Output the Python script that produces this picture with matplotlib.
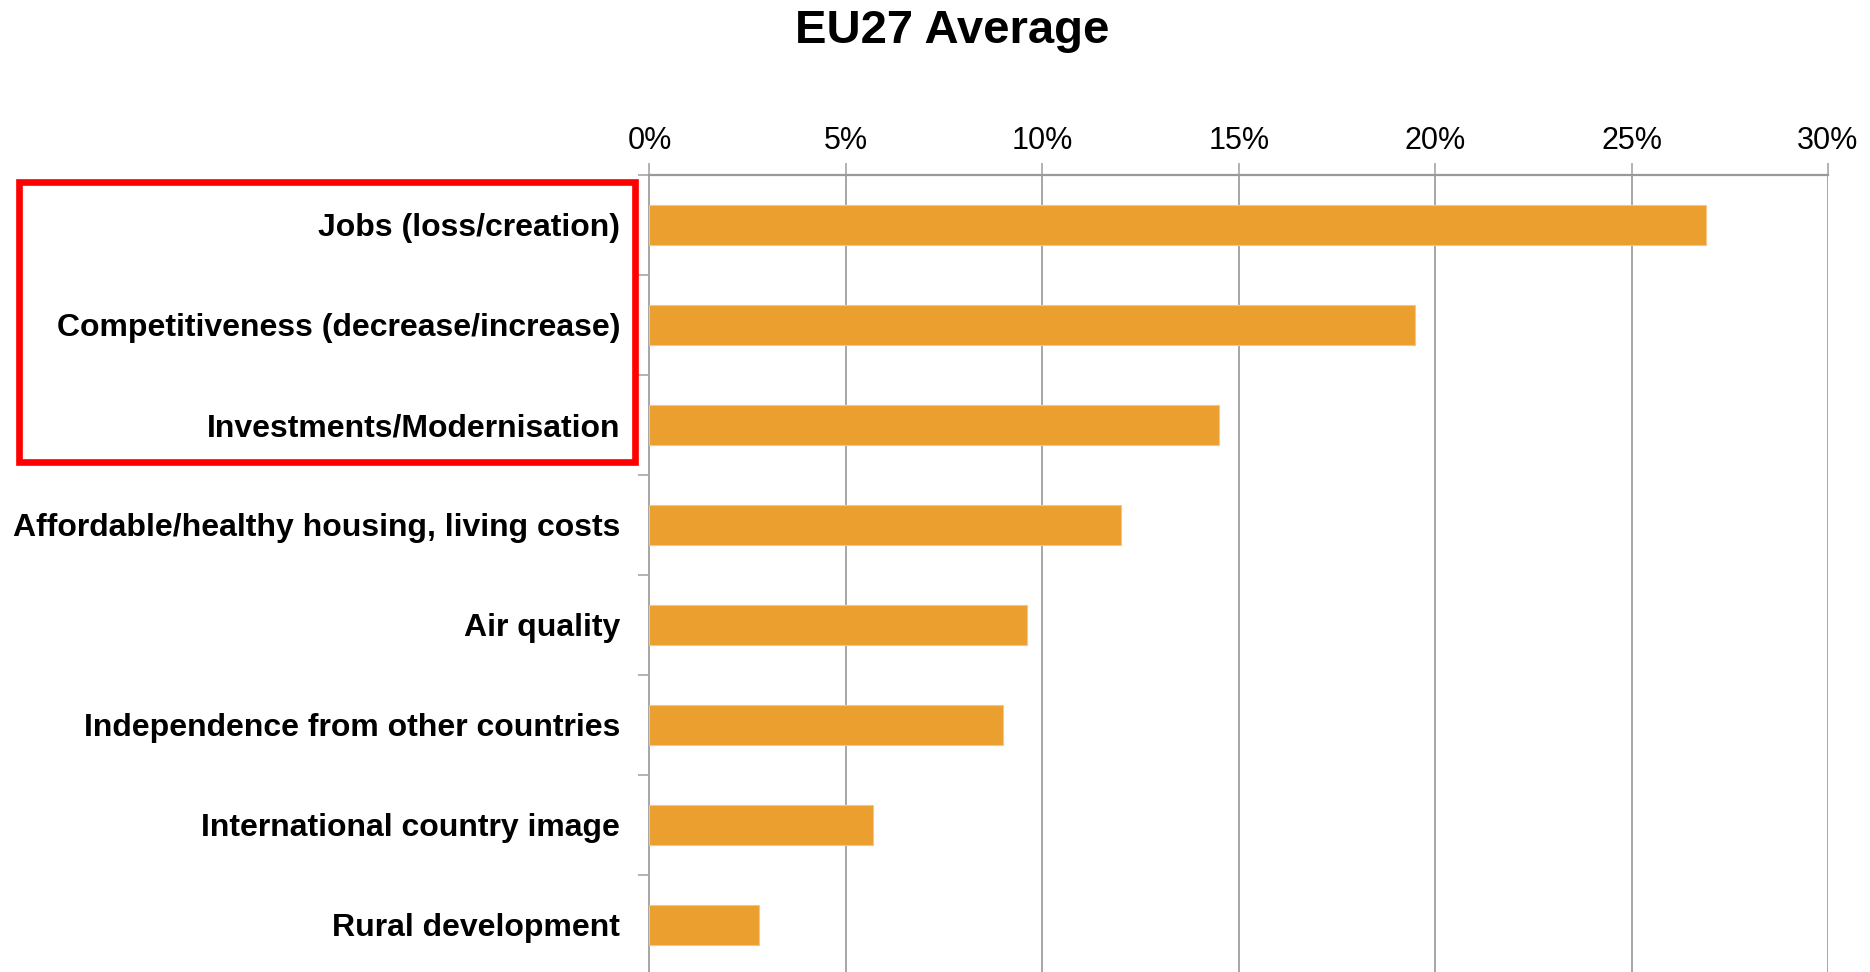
import matplotlib
matplotlib.use('Agg')
import matplotlib.pyplot as plt
from matplotlib.patches import Rectangle
import numpy as np

plt.rcParams['font.family'] = ['Liberation Sans', 'DejaVu Sans']

# data (share of mentions, %)
categorias = ['Jobs (loss/creation)',
              'Competitiveness (decrease/increase)',
              'Investments/Modernisation',
              'Affordable/healthy housing, living costs',
              'Air quality',
              'Independence from other countries',
              'International country image',
              'Rural development']
valores = [26.9, 19.5, 14.5, 12.0, 9.6, 9.0, 5.7, 2.8]
x_ticks = [0, 5, 10, 15, 20, 25, 30]

cor_barra = '#eb9f2e'
cor_grade = '#a6a6a6'

fig = plt.figure(figsize=(18.7, 9.72), dpi=100)
ax = fig.add_axes([0.3473, -0.003, 0.6302, 0.823])

y = np.arange(len(categorias))
ax.barh(y, valores, height=0.4, color=cor_barra, edgecolor='#f4c684', linewidth=0.8, zorder=3)

ax.set_xlim(0, 30)
ax.set_ylim(len(categorias) - 0.5, -0.5)

# x axis on top
ax.xaxis.tick_top()
ax.set_xticks(x_ticks)
ax.set_xticklabels([str(t) + '%' for t in x_ticks], fontsize=22)
ax.tick_params(axis='x', direction='out', length=9, width=1.2, color=cor_grade, pad=5)
ax.grid(axis='x', color=cor_grade, linewidth=1.4, zorder=0)

# y axis: labels at centers, ticks at boundaries
ax.set_yticks(y)
ax.set_yticklabels(categorias, fontsize=23, fontweight='bold')
ax.tick_params(axis='y', which='major', length=0, pad=21)
ax.set_yticks(np.arange(len(categorias) + 1) - 0.5, minor=True)
ax.tick_params(axis='y', which='minor', length=8, width=1.2, color=cor_grade)

for lado in ['right', 'bottom']:
    ax.spines[lado].set_visible(False)
ax.spines['top'].set_color('#999999')
ax.spines['top'].set_linewidth(1.6)
ax.spines['left'].set_color(cor_grade)
ax.spines['left'].set_linewidth(1.4)

fig.text(0.509, 0.968, 'EU27 Average', ha='center', va='center', fontsize=34, fontweight='bold')

# red box around the first three categories
caixa = Rectangle((0.0102, 0.5247), 0.3293, 0.288, transform=fig.transFigure,
                  fill=False, edgecolor='#ff0000', linewidth=4.8, clip_on=False)
fig.patches.append(caixa)

fig.savefig('out.png', dpi=100)
